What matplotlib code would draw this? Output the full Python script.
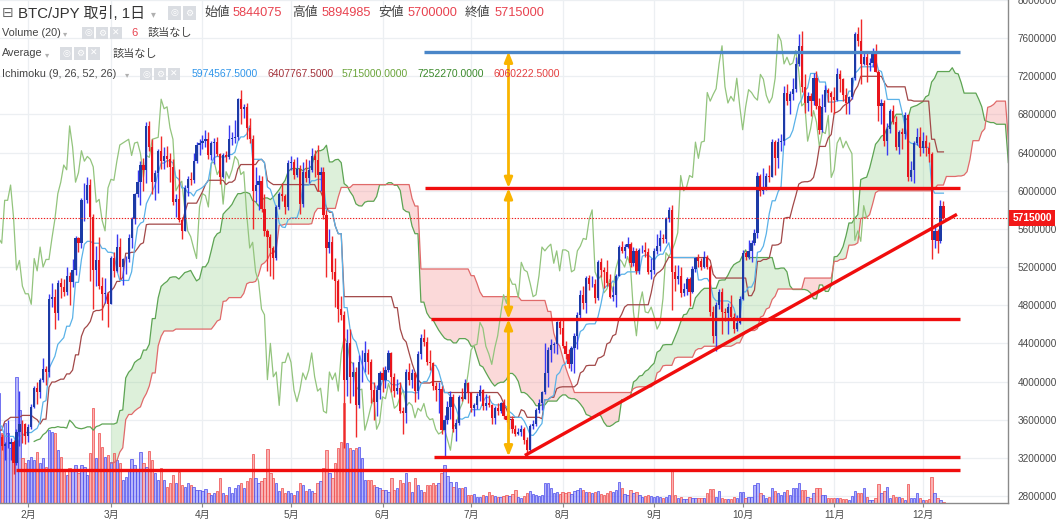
import numpy as np
import pandas as pd
import matplotlib
matplotlib.use("Agg")
import matplotlib.pyplot as plt
import matplotlib.dates as mdates
import matplotlib.transforms as mtransforms
from matplotlib.patches import Rectangle, FancyArrowPatch

plt.rcParams['font.family'] = ['Liberation Sans', 'Noto Sans CJK JP', 'DejaVu Sans']

# ---------------- data (prices in 万円 = 10,000 JPY) ----------------
UNIT = 10000
START = '2020-12-14'
FIRST_OPEN = 198

close_2012 = [199, 201, 221, 236, 239, 247, 243, 235, 247, 241, 246, 256, 274, 272, 280, 283, 298, 300]
high_2012 = [200, 202, 222, 247, 241, 250, 249, 248, 249, 250, 247, 257, 276, 292, 282, 285, 300, 303]
low_2012 = [196, 197, 201, 219, 233, 238, 240, 228, 232, 234, 238, 244, 255, 263, 270, 265, 283, 287]

close_01 = [304, 333, 342, 331, 352, 379, 414, 421, 416, 396, 368, 352, 387, 405, 381, 374, 370, 379, 373, 368,
            319, 342, 332, 334, 335, 337, 315, 347, 356, 355, 343]
high_01 = [307, 345, 358, 345, 355, 380, 418, 433, 428, 424, 397, 382, 390, 415, 410, 390, 379, 385, 389, 375,
           369, 346, 345, 337, 360, 341, 339, 350, 390, 360, 357]
low_01 = [298, 301, 329, 292, 309, 348, 376, 380, 395, 374, 313, 335, 338, 379, 357, 368, 348, 362, 371, 342,
          315, 296, 328, 318, 330, 318, 303, 312, 332, 336, 335]

close_02 = [352, 373, 393, 389, 402, 413, 410, 487, 489, 472, 503, 499, 494, 511, 504, 517, 550, 545, 590, 590,
            606, 572, 517, 527, 500, 492, 492, 481]
high_02 = [356, 376, 395, 399, 404, 425, 416, 492, 503, 497, 506, 509, 507, 520, 515, 528, 553, 552, 592, 608,
           614, 612, 576, 542, 552, 510, 509, 494]
low_02 = [337, 350, 372, 376, 383, 400, 396, 405, 478, 455, 464, 488, 490, 491, 480, 499, 512, 536, 540, 568,
          587, 505, 476, 500, 497, 465, 482, 457]

close_03 = [529, 516, 541, 520, 528, 528, 550, 570, 597, 609, 627, 622, 668, 646, 609, 619, 642, 631, 636, 633,
            625, 588, 591, 569, 558, 603, 612, 611, 631, 648, 650]
high_03 = [532, 536, 555, 550, 530, 532, 555, 573, 598, 622, 631, 634, 672, 673, 654, 622, 644, 657, 646, 647,
           640, 633, 597, 623, 573, 606, 615, 620, 640, 651, 654]
low_03 = [481, 510, 515, 508, 501, 513, 525, 540, 565, 593, 585, 600, 608, 642, 597, 590, 598, 623, 623, 625,
          609, 585, 572, 567, 549, 560, 594, 606, 608, 629, 638]

close_04 = [652, 654, 637, 650, 651, 639, 614, 637, 635, 654, 655, 656, 696, 686, 688, 666, 654, 600, 606, 610,
            581, 558, 552, 540, 529, 583, 597, 595, 583, 629]
high_04 = [658, 664, 662, 652, 655, 656, 640, 640, 642, 669, 662, 674, 697, 706, 691, 692, 676, 658, 625, 617,
           616, 597, 560, 555, 542, 585, 599, 608, 597, 632]
low_04 = [644, 646, 633, 632, 628, 636, 607, 613, 630, 633, 648, 650, 653, 670, 676, 654, 650, 560, 588, 580,
          578, 553, 516, 511, 507, 527, 581, 589, 576, 580]

close_05 = [630, 617, 623, 586, 620, 613, 622, 636, 632, 617, 620, 575, 540, 546, 515, 505, 476, 470, 402, 440,
            405, 410, 375, 420, 420, 430, 420, 391, 379, 391, 409]
high_05 = [636, 633, 635, 627, 630, 633, 632, 645, 643, 648, 625, 625, 580, 560, 553, 530, 508, 490, 474, 455,
           455, 420, 415, 428, 433, 442, 434, 424, 399, 396, 411]
low_05 = [622, 612, 614, 576, 583, 609, 608, 620, 614, 600, 600, 570, 510, 535, 507, 478, 462, 465, 330, 385,
          378, 385, 342, 372, 400, 410, 408, 378, 360, 364, 382]

close_06 = [402, 412, 430, 405, 390, 393, 369, 367, 410, 402, 409, 390, 429, 446, 441, 421, 419, 395, 391, 392,
            349, 360, 373, 384, 350, 357, 384, 382, 398, 388]
high_06 = [415, 416, 433, 431, 409, 403, 400, 373, 413, 419, 413, 410, 432, 450, 455, 447, 433, 420, 400, 399,
           395, 365, 380, 390, 387, 361, 386, 393, 403, 400]
low_06 = [389, 393, 410, 389, 384, 387, 367, 345, 357, 396, 393, 379, 382, 424, 437, 417, 412, 391, 380, 367,
          345, 322, 356, 361, 347, 338, 354, 380, 382, 377]

close_07 = [372, 375, 385, 391, 374, 378, 375, 362, 372, 369, 377, 364, 360, 361, 350, 345, 347, 350, 339, 328,
            353, 355, 370, 377, 389, 409, 433, 438, 439, 462, 456]
high_07 = [389, 378, 388, 396, 392, 387, 386, 376, 374, 377, 379, 382, 366, 365, 364, 354, 351, 354, 352, 342,
           355, 360, 372, 382, 390, 440, 436, 445, 441, 463, 466]
low_07 = [368, 364, 371, 380, 370, 370, 373, 355, 356, 365, 367, 361, 358, 350, 346, 343, 344, 343, 335, 322,
          326, 350, 353, 367, 370, 387, 394, 421, 430, 429, 450]

close_08 = [437, 429, 418, 435, 448, 470, 491, 482, 509, 502, 502, 488, 525, 517, 515, 503, 489, 491, 511, 541,
            537, 541, 544, 524, 537, 516, 538, 538, 536, 515, 517]
high_08 = [467, 443, 434, 437, 451, 473, 496, 500, 511, 512, 511, 508, 527, 529, 520, 527, 513, 500, 513, 543,
           547, 544, 552, 546, 541, 540, 540, 543, 546, 540, 529]
low_08 = [435, 424, 414, 411, 409, 434, 466, 476, 472, 496, 499, 482, 486, 510, 498, 500, 488, 484, 478, 511,
          535, 530, 540, 520, 521, 513, 513, 535, 531, 513, 508]

close_09 = [537, 542, 550, 549, 570, 580, 515, 507, 511, 493, 497, 507, 494, 518, 529, 526, 520, 531, 520, 473,
            448, 480, 494, 473, 472, 478, 468, 455, 461, 487]
high_09 = [540, 555, 559, 555, 572, 583, 585, 522, 522, 520, 503, 510, 510, 521, 531, 534, 530, 537, 533, 522,
           479, 483, 497, 498, 477, 482, 491, 472, 470, 490]
low_09 = [513, 534, 537, 545, 545, 567, 475, 495, 502, 489, 490, 491, 479, 493, 515, 520, 517, 519, 518, 469,
          440, 432, 476, 450, 463, 450, 466, 451, 453, 460]

close_10 = [535, 531, 537, 545, 556, 616, 600, 604, 616, 614, 651, 634, 651, 652, 703, 694, 701, 707, 733, 752,
            709, 692, 699, 694, 718, 689, 664, 688, 706, 703, 698]
high_10 = [538, 537, 548, 548, 560, 620, 618, 624, 619, 627, 654, 653, 655, 659, 710, 712, 705, 718, 740, 764,
           768, 722, 704, 703, 723, 726, 697, 701, 711, 708, 705]
low_10 = [486, 527, 528, 525, 543, 550, 595, 597, 601, 609, 616, 617, 624, 642, 648, 690, 680, 695, 704, 731,
          704, 682, 684, 678, 690, 686, 660, 662, 683, 693, 683]

close_11 = [695, 722, 717, 700, 692, 698, 718, 764, 757, 733, 740, 732, 734, 747, 725, 689, 692, 652, 665, 684,
            672, 646, 662, 660, 679, 614, 622, 650, 656, 645]
high_11 = [709, 729, 727, 718, 708, 699, 719, 766, 772, 780, 745, 746, 739, 750, 753.5, 727, 696, 695, 671, 686,
           690, 678, 664, 666, 683, 681, 631, 652, 666, 667]
low_11 = [680, 694, 704, 694, 680, 680, 696, 716, 752, 712, 732, 714, 726, 730, 724, 673, 670, 647, 638, 661,
          670, 643, 639, 644, 654, 610, 610, 608, 648, 636]

close_12 = [652, 645, 639, 548, 558, 547, 584.4075, 571.5]
high_12 = [662, 658, 651, 641, 565, 560, 590, 589.4985]
low_12 = [640, 636, 630, 528, 540, 535, 545, 570]

# volume (relative units), starting at VOL_START
VOL_START = '2021-01-22'
vol_01 = [110, 70, 80, 70, 55, 60, 126, 93, 45, 40]
vol_02 = [43, 46, 43, 51, 40, 45, 36, 73, 71, 70, 53, 46, 33, 28, 35, 33, 38, 30, 38, 36, 28, 50, 95, 45, 70, 56, 46, 48]
vol_03 = [41, 50, 43, 40, 23, 26, 33, 44, 38, 33, 51, 40, 36, 52, 43, 30, 23, 35, 23, 16, 20, 28, 20, 31, 18, 16, 20,
          18, 16, 13, 13]
vol_04 = [12, 14, 10, 8, 10, 12, 25, 10, 8, 16, 10, 15, 18, 20, 15, 22, 25, 49, 25, 20, 22, 25, 54, 30, 25, 20, 12, 15,
          10, 12]
vol_05 = [10, 8, 12, 20, 18, 12, 14, 12, 10, 20, 22, 35, 53, 30, 25, 40, 55, 61, 100, 60, 55, 53, 55, 56, 45, 23, 23,
          23, 18, 16, 15]
vol_06 = [13, 13, 11, 25, 13, 15, 23, 20, 30, 21, 11, 25, 18, 13, 11, 18, 18, 20, 18, 20, 30, 38, 27, 21, 16, 21, 15,
          15, 16, 8]
vol_07 = [8, 9, 6, 6, 8, 7, 11, 8, 7, 6, 6, 7, 8, 7, 9, 13, 6, 5, 7, 10, 12, 9, 8, 7, 8, 20, 20, 15, 10, 11, 9]
vol_08 = [11, 10, 11, 9, 12, 13, 15, 13, 11, 11, 10, 11, 12, 9, 8, 10, 12, 11, 13, 21, 15, 9, 8, 13, 10, 11, 8, 6, 7,
          8, 7]
vol_09 = [6, 7, 6, 5, 6, 8, 33, 8, 5, 6, 4, 4, 6, 5, 5, 5, 5, 5, 10, 14, 14, 6, 12, 5, 4, 4, 4, 6, 5, 11]
vol_10 = [11, 5, 6, 6, 18, 20, 10, 8, 5, 6, 15, 12, 10, 8, 11, 13, 8, 15, 15, 20, 13, 13, 6, 5, 10, 15, 15, 8, 8, 5, 5]
vol_11 = [5, 5, 5, 4, 4, 3, 7, 12, 10, 10, 15, 6, 3, 3, 5, 19, 10, 12, 16, 5, 8, 6, 6, 5, 3, 19, 5, 5, 10, 5]
vol_12 = [3, 3, 4, 26, 10, 5, 3, 1]

# user-drawn levels / lines (price in JPY)
blue_level = ('2021-06-15', '2021-12-13 14:00', 7460000)
red_levels = [('2021-06-15 10:00', '2021-12-13 14:00', 6028000),
              ('2021-06-17 10:00', '2021-12-13 14:00', 4655000),
              ('2021-06-18 10:00', '2021-12-13 14:00', 3214000),
              ('2021-01-27 20:00', '2021-12-13 14:00', 3072000)]
trend_line = [('2021-07-19 05:00', 3225000), ('2021-12-12 14:00', 5753000)]
arrow_date = '2021-07-13 16:00'
arrow_levels = [7460000, 6028000, 4655000, 3214000]

month_ticks = ['2021-%02d-01' % m for m in range(2, 13)]
month_labels = ['%d月' % m for m in range(2, 13)]
price_ticks = list(range(2800000, 8000001, 400000))

header_symbol = 'BTC/JPY 取引, 1日'
ohlc_labels = ['始値', '高値', '安値', '終値']
ohlc_values = ['5844075', '5894985', '5700000', '5715000']
ichimoku_values = ['5974567.5000', '6407767.5000', '5715000.0000', '7252270.0000', '6060222.5000']

# ---------------- assemble ----------------
closes = np.array(close_2012 + close_01 + close_02 + close_03 + close_04 + close_05 + close_06 + close_07 +
                  close_08 + close_09 + close_10 + close_11 + close_12, float) * UNIT
highs = np.array(high_2012 + high_01 + high_02 + high_03 + high_04 + high_05 + high_06 + high_07 +
                 high_08 + high_09 + high_10 + high_11 + high_12, float) * UNIT
lows = np.array(low_2012 + low_01 + low_02 + low_03 + low_04 + low_05 + low_06 + low_07 +
                low_08 + low_09 + low_10 + low_11 + low_12, float) * UNIT
n = len(closes)
opens = np.r_[FIRST_OPEN * UNIT, closes[:-1]]
highs = np.maximum(highs, np.maximum(opens, closes))
lows = np.minimum(lows, np.minimum(opens, closes))
dates = pd.date_range(START, periods=n, freq='D')
x = mdates.date2num(dates.to_pydatetime())
up = closes >= opens

volume = np.array(vol_01 + vol_02 + vol_03 + vol_04 + vol_05 + vol_06 + vol_07 + vol_08 + vol_09 + vol_10 +
                  vol_11 + vol_12, float)
voff = (pd.Timestamp(VOL_START) - pd.Timestamp(START)).days
nv = min(len(volume), n - voff)
volume = volume[:nv]
xv = x[voff:voff + nv]
vup = up[voff:voff + nv]

# Ichimoku (9, 26, 52, 26)
hs, ls = pd.Series(highs), pd.Series(lows)
def donchian(k):
    return ((hs.rolling(k).max() + ls.rolling(k).min()) / 2).values
conv = donchian(9)
base = donchian(26)
leadA = (conv + base) / 2
leadB = donchian(52)
DISP = 26

def dn(s):
    return mdates.date2num(pd.Timestamp(s).to_pydatetime())

# ---------------- figure ----------------
W, H = 1058, 524
fig = plt.figure(figsize=(W / 100, H / 100), dpi=100)
fig.patch.set_facecolor('white')
ax = fig.add_axes([0, 21 / H, 1008 / W, 503 / H])
ax.set_facecolor('white')

PX_PER_DAY = 2.952
feb1 = dn('2021-02-01')
ax.set_xlim(feb1 - 28.3 / PX_PER_DAY, feb1 + (1008 - 28.3) / PX_PER_DAY)
ax.set_ylim(2726700, 8000000)

# grid
for t in month_ticks:
    ax.axvline(dn(t), color='#eceff2', lw=0.9, zorder=0)
for p in price_ticks:
    ax.axhline(p, color='#eceff2', lw=0.9, zorder=0)

# volume (bottom overlay)
VOL_TOP = 4.0 * volume.max()
trans_v = mtransforms.blended_transform_factory(ax.transData, ax.transAxes)
vface = np.where(vup[:, None], np.array([[0.47, 0.47, 0.97, 0.55]]), np.array([[0.97, 0.45, 0.45, 0.55]]))
vedge = np.where(vup[:, None], np.array([[0.33, 0.33, 0.93, 0.9]]), np.array([[0.94, 0.33, 0.33, 0.9]]))
ax.bar(xv, volume / VOL_TOP, width=0.78, bottom=0, transform=trans_v,
       color=vface, edgecolor=vedge, linewidth=0.6, zorder=1)

# cloud
xl = x + DISP
ax.fill_between(xl, leadA, leadB, where=leadA >= leadB, interpolate=True,
                color='#8fd086', alpha=0.30, lw=0, zorder=0.8)
ax.fill_between(xl, leadA, leadB, where=leadA < leadB, interpolate=True,
                color='#f48a8a', alpha=0.32, lw=0, zorder=0.8)
ax.plot(xl, leadA, color='#5da453', lw=0.9, zorder=2)
ax.plot(xl, leadB, color='#e06a6a', lw=0.9, zorder=2)
ax.plot(x - DISP, closes, color='#93c47d', lw=0.9, zorder=2)
ax.plot(x, base, color='#a24848', lw=0.9, zorder=2.2)
ax.plot(x, conv, color='#5ab2e8', lw=0.9, zorder=2.3)

# candles
wick_col = np.where(up, '#3a3af2', '#f02a2a')
body_col = np.where(up, '#1c3aa6', '#e8141c')
ax.vlines(x, lows, highs, colors=wick_col, lw=1.0, zorder=3)
ax.bar(x, np.maximum(np.abs(closes - opens), 4000), bottom=np.minimum(opens, closes),
       width=0.74, color=body_col, lw=0, zorder=3.5)

# drawn lines
ax.plot([dn(blue_level[0]), dn(blue_level[1])], [blue_level[2]] * 2, color='#4a86c8', lw=2.4,
        solid_capstyle='butt', zorder=6)
for s, e, p in red_levels:
    ax.plot([dn(s), dn(e)], [p, p], color='#f00d0d', lw=2.4, solid_capstyle='butt', zorder=6)
ax.plot([dn(trend_line[0][0]), dn(trend_line[1][0])], [trend_line[0][1], trend_line[1][1]],
        color='#f00d0d', lw=2.4, solid_capstyle='butt', zorder=6)
xa = dn(arrow_date)
for a, b in zip(arrow_levels[:-1], arrow_levels[1:]):
    ax.add_patch(FancyArrowPatch((xa, a), (xa, b), arrowstyle='<|-|>,head_length=0.6,head_width=0.24',
                                 mutation_scale=10, color='#f9b400', lw=2.0, shrinkA=0, shrinkB=0, zorder=7))

# last price line
last = closes[-1]
ax.axhline(last, color='#ee1c1c', lw=0.8, ls=(0, (1.2, 1.4)), zorder=6)

# axes styling
for sp in ['top', 'left']:
    ax.spines[sp].set_visible(False)
for sp in ['right', 'bottom']:
    ax.spines[sp].set_color('#8a8a8a')
    ax.spines[sp].set_linewidth(1.0)
ax.yaxis.tick_right()
ax.set_yticks(price_ticks)
ax.set_yticklabels([str(p) for p in price_ticks])
ax.tick_params(axis='y', length=0, pad=7, labelsize=7.2, labelcolor='#4a4a4a')
ax.set_xticks([dn(t) for t in month_ticks])
ax.set_xticklabels(month_labels)
ax.tick_params(axis='x', length=3, width=0.8, color='#8a8a8a', pad=2, labelsize=7.2, labelcolor='#4a4a4a')

trans_lbl = mtransforms.blended_transform_factory(ax.transAxes, ax.transData)
ax.text(1.0045, last, '%d' % round(last), transform=trans_lbl, ha='left', va='center',
        fontsize=7.4, fontweight='bold', color='white', zorder=10, clip_on=False,
        bbox=dict(boxstyle='square,pad=0.32', facecolor='#f21818', edgecolor='none'))

# ---------------- header ----------------
def ftxt(px, py, s, **kw):
    kw.setdefault('va', 'center')
    kw.setdefault('ha', 'left')
    return fig.text(px / W, 1 - py / H, s, **kw)

def icons(px_list, py, size=12, syms=('◎', '⚙', '✕')):
    for px, sym in zip(px_list, syms):
        fig.patches.append(Rectangle((px / W, 1 - (py + size / 2) / H), size / W, size / H,
                                     transform=fig.transFigure, facecolor='#dadde2', edgecolor='none'))
        ftxt(px + size / 2, py, sym, ha='center', fontsize=6.5, color='white', family='DejaVu Sans')

GRAY = '#444444'
RED = '#e8424f'
ftxt(2, 13, '⊟', fontsize=10, color='#666666', family='DejaVu Sans')
ftxt(18, 13, header_symbol, fontsize=10.8, color='#333333')
ftxt(151, 14, '▾', fontsize=7, color='#b0b0b0', family='DejaVu Sans')
icons([168, 183], 13, size=13, syms=('◎', '⚙'))
for lab, val, lx, vx in zip(ohlc_labels, ohlc_values, [204, 292, 378, 465], [233, 322, 408, 495]):
    ftxt(lx, 13, lab, fontsize=9.2, color=GRAY)
    ftxt(vx, 13, val, fontsize=9.2, color=RED)

ftxt(2, 33, 'Volume (20)', fontsize=7.8, color=GRAY)
ftxt(63, 34, '▾', fontsize=6, color='#b0b0b0', family='DejaVu Sans')
icons([82, 96, 110], 33)
ftxt(131, 33, '6', fontsize=8, color=RED)
ftxt(148, 33, '該当なし', fontsize=8, color=GRAY)

ftxt(2, 53.5, 'Average', fontsize=7.8, color=GRAY)
ftxt(45, 54.5, '▾', fontsize=6, color='#b0b0b0', family='DejaVu Sans')
icons([60, 74, 88], 53.5)
ftxt(113, 53.5, '該当なし', fontsize=8, color=GRAY)

ftxt(2, 74, 'Ichimoku (9, 26, 52, 26)', fontsize=7.8, color=GRAY)
ftxt(125, 75, '▾', fontsize=6, color='#b0b0b0', family='DejaVu Sans')
icons([140, 154, 168], 74)
for val, vx, col in zip(ichimoku_values, [192, 267, 342, 417, 493],
                        ['#2f95ea', '#a3323b', '#6aa43a', '#3b8a2b', '#e43f3f']):
    ftxt(vx, 74, val, fontsize=7.5, color=col)

fig.savefig('out.png', dpi=100, facecolor='white')
